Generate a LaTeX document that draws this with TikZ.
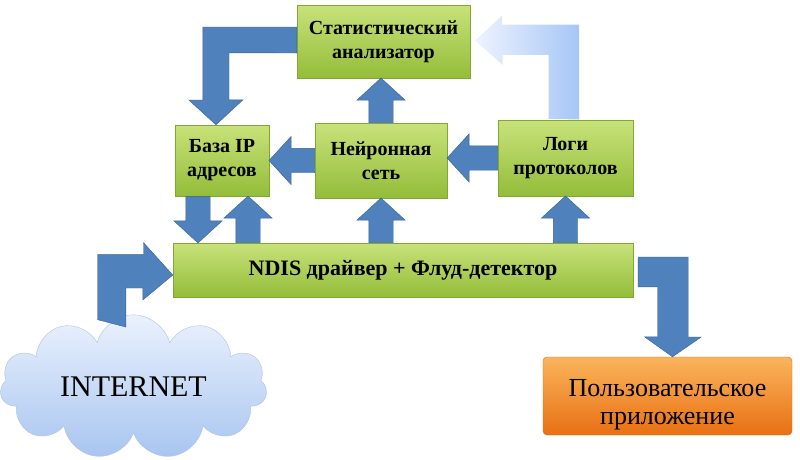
\documentclass[tikz,border=0pt]{standalone}
\usepackage{fontspec}
\setmainfont{Liberation Serif}
\usetikzlibrary{calc, positioning, shapes.arrows, shapes.symbols}

\definecolor{greentop}{RGB}{200,226,122}
\definecolor{greenbot}{RGB}{148,189,58}
\definecolor{greenline}{RGB}{130,168,52}
\definecolor{arrblue}{RGB}{79,129,189}
\definecolor{arrline}{RGB}{56,98,150}
\definecolor{orangetop}{RGB}{251,180,92}
\definecolor{orangebot}{RGB}{232,112,20}
\definecolor{orangeline}{RGB}{210,110,30}
\definecolor{cloudtop}{RGB}{234,241,253}
\definecolor{cloudbot}{RGB}{168,197,240}
\definecolor{cloudline}{RGB}{178,194,222}
\definecolor{paleright}{RGB}{166,198,246}
\definecolor{paleleft}{RGB}{238,243,254}

\begin{document}
\begin{tikzpicture}[x=1pt, y=-1pt,
   box/.style = {rectangle, draw=greenline, top color=greentop, bottom color=greenbot,
                 align=center, inner sep=0pt, font=\fontsize{20}{24}\selectfont\bfseries},
   SA/.style = {single arrow, draw=arrline, fill=arrblue, inner xsep=0pt, inner ysep=12pt,
                single arrow head extend=12pt, single arrow tip angle=95},
   BA/.style = {draw=arrline, fill=arrblue} ]

\useasboundingbox (0,0) rectangle (800,459);

% blocks
\node (stat)  [box, minimum width=173pt, minimum height=73pt] at (383.5,41.5) {Статистический\\анализатор};
\node (baza)  [box, minimum width=94pt, minimum height=71pt] at (222,160.5) {База IP\\адресов};
\node (neuro) [box, minimum width=132pt, minimum height=75pt] at (381,160.5) {Нейронная\\сеть};
\node (logi)  [box, minimum width=135pt, minimum height=76pt] at (565.5,158) {Логи\\протоколов};
\node (ndis)  [box, minimum width=460pt, minimum height=54pt, font=\fontsize{22}{26}\selectfont\bfseries]
      at (403,270) {NDIS драйвер + Флуд-детектор};
\node (app)   [rectangle, rounded corners=4pt, draw=orangeline, top color=orangetop, bottom color=orangebot,
               minimum width=249pt, minimum height=78pt, align=center, font=\fontsize{26}{28}\selectfont]
      at (667.5,396) {\rule{0pt}{34pt}Пользовательское\\приложение};
\node (net)   [cloud, cloud puffs=11, aspect=2, draw=cloudline, top color=cloudtop, bottom color=cloudbot,
               minimum width=267pt, minimum height=130pt, inner sep=0pt, font=\fontsize{30}{34}\selectfont]
      at (133.5,387) {INTERNET};

% straight arrows
\coordinate (bd) at ($(baza.south)+(-24,0)$);
\coordinate (bu) at ($(baza.south |- ndis.north)+(26,0)$);
\foreach \t/\h [count=\i] in {neuro.north/neuro.north |- stat.south,
                               neuro.west/neuro.west -| baza.east,
                               logi.west/logi.west -| neuro.east,
                               bd/bd |- ndis.north,
                               bu/bu |- baza.south,
                               neuro.south |- ndis.north/neuro.south,
                               logi.south |- ndis.north/logi.south}
  \path let \p1 = ($(\h)-(\t)$),
            \n1 = {veclen(\x1,\y1)},
            \n2 = {atan2(\y1,\x1)} in
        node[SA, rotate=\n2, anchor=tail, minimum height=\n1] (sa\i) at (\t) {};

% elbow arrows
\draw[BA] ($(stat.west)+(0,-14.5)$) -- ++(-94,0) -- ++(0,73) -- ++(-14,0)
      -- ($(baza.north)+(-6,0)$) -- ++(27,-25) -- ++(-14,0) -- ++(0,-47)
      -- ($(stat.west)+(0,11.5)$) -- cycle;
\draw[BA] ($(net.north)+(-36,5)$) -- ++(0,-65) -- ++(46,0) -- ++(0,-12)
      -- ($(ndis.west)+(0,5)$) -- ++(-30,25) -- ++(0,-12) -- ++(-17,0) -- ++(0,39) -- cycle;
\draw[BA] ($(ndis.east)+(5,-13)$) -- ++(50,0) -- ++(0,80) -- ++(13,0)
      -- ($(app.north)+(5,0)$) -- ++(-28,-20) -- ++(13,0) -- ++(0,-50) -- ++(-19.5,0) -- cycle;
\path[left color=paleleft, right color=paleright] ($(logi.north)+(-17,-1)$) -- ++(0,-64) -- ++(-46,0) -- ++(0,10)
      -- ($(stat.east)+(5,-1)$) -- ++(27,-25) -- ++(0,9) -- ++(77,0) -- ++(0,95) -- cycle;
\end{tikzpicture}
\end{document}
